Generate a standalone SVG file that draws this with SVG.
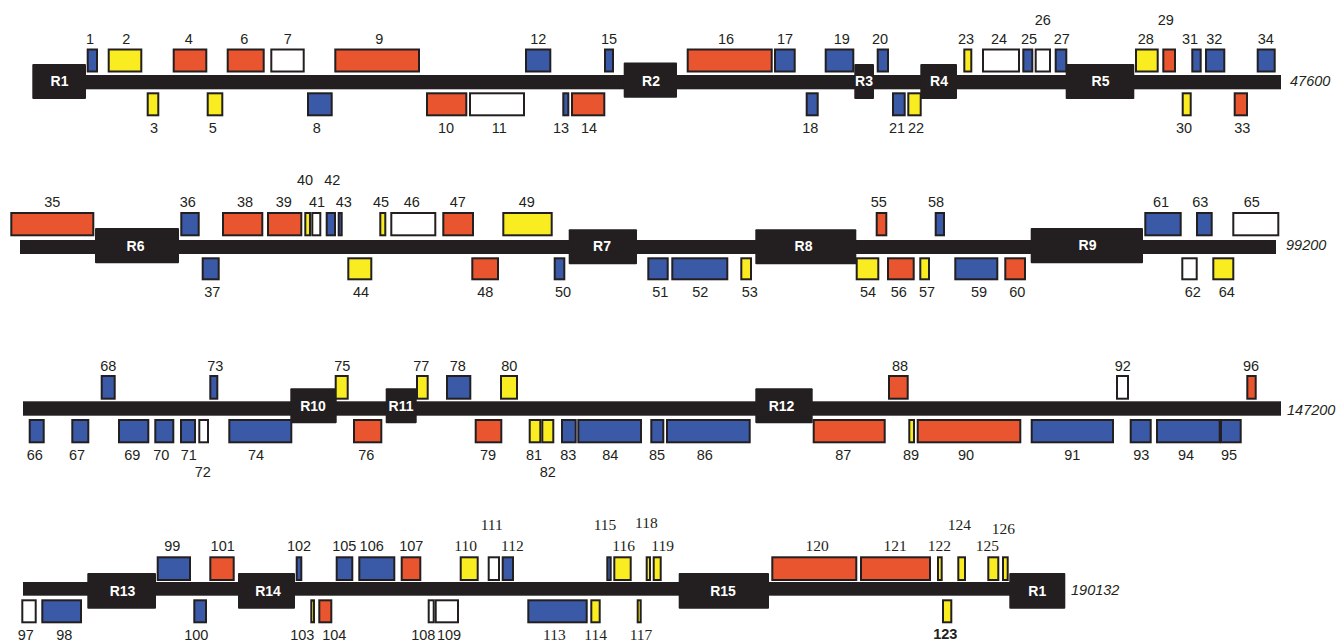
<svg xmlns="http://www.w3.org/2000/svg" width="1338" height="642" viewBox="0 0 1338 642">
<style>
.g rect{stroke:#231F20;stroke-width:2}
.r rect{fill:#E9552E}
.b rect{fill:#3A59A7}
.y rect{fill:#F9EC21}
.w rect{fill:#FFFFFF}
.g text{font-family:"Liberation Sans",Arial,sans-serif;font-size:14.5px;fill:#231F20;text-anchor:middle}
.g text.s{font-family:"Liberation Serif","Times New Roman",serif;font-size:15.5px}
.g text.bd{font-weight:bold}
.R rect{fill:#231F20}
.R text{font-family:"Liberation Sans",Arial,sans-serif;font-size:14px;font-weight:bold;fill:#FFFFFF;text-anchor:middle}
.bar{fill:#231F20}
.len{font-family:"Liberation Sans",Arial,sans-serif;font-size:14.5px;font-style:italic;fill:#231F20}
</style>
<rect width="1338" height="642" fill="#FFFFFF"/>
<g id="connectors">
<rect class="bar" x="60" y="75" width="1221" height="14.3"/>
<rect class="bar" x="20" y="240" width="1256" height="14"/>
<rect class="bar" x="23" y="401.3" width="1258" height="14.4"/>
<rect class="bar" x="23" y="582" width="990" height="13.7"/>
</g>
<g id="R1a" class="R"><rect x="32.3" y="64" width="53.7" height="35" rx="1"/><text x="59.5" y="86">R1</text></g>
<g id="R2" class="R"><rect x="623.7" y="62.5" width="53.3" height="35.2" rx="1"/><text x="651" y="86">R2</text></g>
<g id="R3" class="R"><rect x="854.3" y="64" width="19.7" height="35" rx="1"/><text x="864" y="86">R3</text></g>
<g id="R4" class="R"><rect x="920.3" y="64" width="36.7" height="35" rx="1"/><text x="939" y="86">R4</text></g>
<g id="R5" class="R"><rect x="1065.7" y="64" width="68.6" height="35" rx="1"/><text x="1100.5" y="86">R5</text></g>
<g id="R6" class="R"><rect x="95" y="228" width="84" height="35.3" rx="1"/><text x="135.5" y="250.5">R6</text></g>
<g id="R7" class="R"><rect x="568.7" y="229.3" width="68.3" height="35" rx="1"/><text x="602" y="251">R7</text></g>
<g id="R8" class="R"><rect x="755.3" y="229.3" width="101" height="35" rx="1"/><text x="803.5" y="250.5">R8</text></g>
<g id="R9" class="R"><rect x="1030.7" y="228" width="112.3" height="35.3" rx="1"/><text x="1087.5" y="250">R9</text></g>
<g id="R10" class="R"><rect x="290.3" y="388.3" width="46.4" height="35" rx="1"/><text x="313" y="410.7">R10</text></g>
<g id="R11" class="R"><rect x="385.7" y="388.3" width="31" height="35" rx="1"/><text x="401" y="410.7">R11</text></g>
<g id="R12" class="R"><rect x="755.3" y="388.3" width="57.4" height="35" rx="1"/><text x="781.5" y="410.7">R12</text></g>
<g id="R13" class="R"><rect x="87.3" y="573" width="68.7" height="35.7" rx="1"/><text x="122.5" y="596">R13</text></g>
<g id="R14" class="R"><rect x="238" y="573" width="57" height="35.7" rx="1"/><text x="268" y="596">R14</text></g>
<g id="R15" class="R"><rect x="678.7" y="573" width="90.3" height="35.7" rx="1"/><text x="723" y="596">R15</text></g>
<g id="R1b" class="R"><rect x="1009.3" y="573" width="56" height="35.7" rx="1"/><text x="1037.3" y="596">R1</text></g>
<g id="lengths">
<text class="len" x="1290" y="86">47600</text>
<text class="len" x="1286" y="249.5">99200</text>
<text class="len" x="1287" y="414.5">147200</text>
<text class="len" x="1071" y="595">190132</text>
</g>
<g id="g1" class="g b"><rect x="87.7" y="49.5" width="9.3" height="22"/><text x="90" y="44.3">1</text></g>
<g id="g2" class="g y"><rect x="108.7" y="49.5" width="32.6" height="22"/><text x="126.3" y="44.3">2</text></g>
<g id="g3" class="g y"><rect x="147.7" y="93.3" width="10.6" height="22"/><text x="154" y="132.7">3</text></g>
<g id="g4" class="g r"><rect x="173.7" y="49.5" width="32.6" height="22"/><text x="188.7" y="44.3">4</text></g>
<g id="g5" class="g y"><rect x="207.7" y="93.3" width="14.6" height="22"/><text x="212.7" y="132.7">5</text></g>
<g id="g6" class="g r"><rect x="227.7" y="49.5" width="36" height="22"/><text x="244.3" y="44.3">6</text></g>
<g id="g7" class="g w"><rect x="271.3" y="49.5" width="32.4" height="22"/><text x="287.7" y="44.3">7</text></g>
<g id="g8" class="g b"><rect x="308" y="93.3" width="23.7" height="22"/><text x="316.7" y="132.7">8</text></g>
<g id="g9" class="g r"><rect x="335.3" y="49.5" width="83.7" height="22"/><text x="379.3" y="44.3">9</text></g>
<g id="g10" class="g r"><rect x="427" y="93.3" width="39.3" height="22"/><text x="446" y="132.7">10</text></g>
<g id="g11" class="g w"><rect x="470" y="93.3" width="54" height="22"/><text x="499.3" y="132.7">11</text></g>
<g id="g12" class="g b"><rect x="526" y="49.5" width="24.3" height="22"/><text x="538.3" y="44.3">12</text></g>
<g id="g13" class="g b"><rect x="563.3" y="93.3" width="5" height="22"/><text x="561" y="132.7">13</text></g>
<g id="g14" class="g r"><rect x="572" y="93.3" width="32.3" height="22"/><text x="589" y="132.7">14</text></g>
<g id="g15" class="g b"><rect x="605" y="49.5" width="8" height="22"/><text x="609" y="44.3">15</text></g>
<g id="g16" class="g r"><rect x="687.7" y="49.5" width="84" height="22"/><text x="726" y="44.3">16</text></g>
<g id="g17" class="g b"><rect x="775" y="49.5" width="19.7" height="22"/><text x="785" y="44.3">17</text></g>
<g id="g18" class="g b"><rect x="806.7" y="93.3" width="11" height="22"/><text x="810.3" y="132.7">18</text></g>
<g id="g19" class="g b"><rect x="825.7" y="49.5" width="27.6" height="22"/><text x="841.7" y="44.3">19</text></g>
<g id="g20" class="g b"><rect x="877.7" y="49.5" width="10.3" height="22"/><text x="880" y="44.3">20</text></g>
<g id="g21" class="g b"><rect x="893" y="93.3" width="11.7" height="22"/><text x="897" y="132.7">21</text></g>
<g id="g22" class="g y"><rect x="908.3" y="93.3" width="12.4" height="22"/><text x="916" y="132.7">22</text></g>
<g id="g23" class="g y"><rect x="964.3" y="49.5" width="7" height="22"/><text x="966" y="44.3">23</text></g>
<g id="g24" class="g w"><rect x="983" y="49.5" width="36" height="22"/><text x="999" y="44.3">24</text></g>
<g id="g25" class="g b"><rect x="1023.3" y="49.5" width="9" height="22"/><text x="1029" y="44.3">25</text></g>
<g id="g26" class="g w"><rect x="1035.7" y="49.5" width="14.3" height="22"/><text x="1042.7" y="25">26</text></g>
<g id="g27" class="g b"><rect x="1055.7" y="49.5" width="10.6" height="22"/><text x="1061.7" y="44.3">27</text></g>
<g id="g28" class="g y"><rect x="1136" y="49.5" width="21.7" height="22"/><text x="1145.7" y="44.3">28</text></g>
<g id="g29" class="g r"><rect x="1163.3" y="49.5" width="11.7" height="22"/><text x="1165.7" y="25">29</text></g>
<g id="g30" class="g y"><rect x="1182.7" y="93.3" width="8" height="22"/><text x="1184" y="132.7">30</text></g>
<g id="g31" class="g b"><rect x="1192.3" y="49.5" width="8.4" height="22"/><text x="1190" y="44.3">31</text></g>
<g id="g32" class="g b"><rect x="1206" y="49.5" width="18.3" height="22"/><text x="1214.3" y="44.3">32</text></g>
<g id="g33" class="g r"><rect x="1234.7" y="93.3" width="12.3" height="22"/><text x="1242.3" y="132.7">33</text></g>
<g id="g34" class="g b"><rect x="1257.7" y="49.5" width="17" height="22"/><text x="1265.7" y="44.3">34</text></g>
<g id="g35" class="g r"><rect x="11.3" y="213" width="82" height="22.3"/><text x="52.3" y="206.5">35</text></g>
<g id="g36" class="g b"><rect x="181.3" y="213" width="17.4" height="22.3"/><text x="187.7" y="206.5">36</text></g>
<g id="g37" class="g b"><rect x="202.7" y="258.3" width="16" height="21"/><text x="212.3" y="297.3">37</text></g>
<g id="g38" class="g r"><rect x="223" y="213" width="39.3" height="22.3"/><text x="245" y="206.5">38</text></g>
<g id="g39" class="g r"><rect x="268" y="213" width="33.3" height="22.3"/><text x="283.7" y="206.5">39</text></g>
<g id="g40" class="g y"><rect x="305.3" y="213" width="4.7" height="22.3"/><text x="305" y="185.3">40</text></g>
<g id="g41" class="g w"><rect x="312.3" y="213" width="8" height="22.3"/><text x="317" y="206.5">41</text></g>
<g id="g42" class="g b"><rect x="326.7" y="213" width="8.3" height="22.3"/><text x="332.3" y="185.3">42</text></g>
<g id="g43" class="g b"><rect x="338.7" y="213" width="3" height="22.3"/><text x="343.7" y="206.5">43</text></g>
<g id="g44" class="g y"><rect x="348.3" y="258.3" width="23" height="21"/><text x="361" y="297.3">44</text></g>
<g id="g45" class="g y"><rect x="380.3" y="213" width="5" height="22.3"/><text x="381" y="206.5">45</text></g>
<g id="g46" class="g w"><rect x="391.3" y="213" width="44" height="22.3"/><text x="411.7" y="206.5">46</text></g>
<g id="g47" class="g r"><rect x="443.3" y="213" width="29.7" height="22.3"/><text x="457.7" y="206.5">47</text></g>
<g id="g48" class="g r"><rect x="472.3" y="258.3" width="25.7" height="21"/><text x="485.3" y="297.3">48</text></g>
<g id="g49" class="g y"><rect x="503.3" y="213" width="48.4" height="22.3"/><text x="526.7" y="206.5">49</text></g>
<g id="g50" class="g b"><rect x="554.7" y="258.3" width="9.6" height="21"/><text x="563" y="297.3">50</text></g>
<g id="g51" class="g b"><rect x="648.3" y="258.3" width="19.4" height="21"/><text x="660.3" y="297.3">51</text></g>
<g id="g52" class="g b"><rect x="672.3" y="258.3" width="55" height="21"/><text x="700.3" y="297.3">52</text></g>
<g id="g53" class="g y"><rect x="741.3" y="258.3" width="9.7" height="21"/><text x="749.7" y="297.3">53</text></g>
<g id="g54" class="g y"><rect x="856.7" y="258.3" width="21.6" height="21"/><text x="868" y="297.3">54</text></g>
<g id="g55" class="g r"><rect x="876.7" y="213" width="9.6" height="22.3"/><text x="878.7" y="206.5">55</text></g>
<g id="g56" class="g r"><rect x="888" y="258.3" width="25.7" height="21"/><text x="898.7" y="297.3">56</text></g>
<g id="g57" class="g y"><rect x="920.3" y="258.3" width="8.7" height="21"/><text x="927" y="297.3">57</text></g>
<g id="g58" class="g b"><rect x="935.7" y="213" width="8.3" height="22.3"/><text x="936" y="206.5">58</text></g>
<g id="g59" class="g b"><rect x="955.3" y="258.3" width="42" height="21"/><text x="979" y="297.3">59</text></g>
<g id="g60" class="g r"><rect x="1005.3" y="258.3" width="19.7" height="21"/><text x="1017.3" y="297.3">60</text></g>
<g id="g61" class="g b"><rect x="1145.3" y="213" width="35.4" height="22.3"/><text x="1161" y="206.5">61</text></g>
<g id="g62" class="g w"><rect x="1182.3" y="258.3" width="14.4" height="21"/><text x="1192.7" y="297.3">62</text></g>
<g id="g63" class="g b"><rect x="1197" y="213" width="14.7" height="22.3"/><text x="1200.3" y="206.5">63</text></g>
<g id="g64" class="g y"><rect x="1213.3" y="258.3" width="20" height="21"/><text x="1226.7" y="297.3">64</text></g>
<g id="g65" class="g w"><rect x="1233.3" y="213" width="45" height="22.3"/><text x="1251.7" y="206.5">65</text></g>
<g id="g66" class="g b"><rect x="29.7" y="420" width="14" height="22.3"/><text x="34.7" y="460.3">66</text></g>
<g id="g67" class="g b"><rect x="72.3" y="420" width="16" height="22.3"/><text x="77" y="460.3">67</text></g>
<g id="g68" class="g b"><rect x="101.7" y="376" width="13" height="22.7"/><text x="108.3" y="371.3">68</text></g>
<g id="g69" class="g b"><rect x="119" y="420" width="29.3" height="22.3"/><text x="132.3" y="460.3">69</text></g>
<g id="g70" class="g b"><rect x="155.3" y="420" width="18" height="22.3"/><text x="161.3" y="460.3">70</text></g>
<g id="g71" class="g b"><rect x="181" y="420" width="14" height="22.3"/><text x="188.7" y="460.3">71</text></g>
<g id="g72" class="g w"><rect x="199.3" y="420" width="8.7" height="22.3"/><text x="202.7" y="476.7">72</text></g>
<g id="g73" class="g b"><rect x="210.3" y="376" width="7" height="22.7"/><text x="215.3" y="371.3">73</text></g>
<g id="g74" class="g b"><rect x="229.3" y="420" width="62" height="22.3"/><text x="256" y="460.3">74</text></g>
<g id="g75" class="g y"><rect x="335.7" y="376" width="12" height="22.7"/><text x="342.3" y="371.3">75</text></g>
<g id="g76" class="g r"><rect x="354" y="420" width="27.3" height="22.3"/><text x="366.3" y="460.3">76</text></g>
<g id="g77" class="g y"><rect x="417" y="376" width="10.7" height="22.7"/><text x="421.3" y="371.3">77</text></g>
<g id="g78" class="g b"><rect x="447" y="376" width="23.3" height="22.7"/><text x="457.7" y="371.3">78</text></g>
<g id="g79" class="g r"><rect x="475.7" y="420" width="25.6" height="22.3"/><text x="488" y="460.3">79</text></g>
<g id="g80" class="g y"><rect x="501" y="376" width="16" height="22.7"/><text x="509.3" y="371.3">80</text></g>
<g id="g81" class="g y"><rect x="529.7" y="420" width="10.6" height="22.3"/><text x="534" y="460.3">81</text></g>
<g id="g82" class="g y"><rect x="542.3" y="420" width="11" height="22.3"/><text x="547.7" y="476.7">82</text></g>
<g id="g83" class="g b"><rect x="562" y="420" width="13.7" height="22.3"/><text x="568.3" y="460.3">83</text></g>
<g id="g84" class="g b"><rect x="578.3" y="420" width="62.7" height="22.3"/><text x="610.3" y="460.3">84</text></g>
<g id="g85" class="g b"><rect x="651.3" y="420" width="12" height="22.3"/><text x="657" y="460.3">85</text></g>
<g id="g86" class="g b"><rect x="667" y="420" width="82.7" height="22.3"/><text x="704.7" y="460.3">86</text></g>
<g id="g87" class="g r"><rect x="813.7" y="420" width="71" height="22.3"/><text x="843.3" y="460.3">87</text></g>
<g id="g88" class="g r"><rect x="889" y="376" width="18.7" height="22.7"/><text x="900" y="371.3">88</text></g>
<g id="g89" class="g y"><rect x="909.3" y="420" width="4.7" height="22.3"/><text x="911" y="460.3">89</text></g>
<g id="g90" class="g r"><rect x="917.7" y="420" width="102.6" height="22.3"/><text x="966" y="460.3">90</text></g>
<g id="g91" class="g b"><rect x="1031.7" y="420" width="81.3" height="22.3"/><text x="1072.3" y="460.3">91</text></g>
<g id="g92" class="g w"><rect x="1117" y="376" width="11" height="22.7"/><text x="1122.7" y="371.3">92</text></g>
<g id="g93" class="g b"><rect x="1130.7" y="420" width="20" height="22.3"/><text x="1141.3" y="460.3">93</text></g>
<g id="g94" class="g b"><rect x="1157" y="420" width="62.7" height="22.3"/><text x="1186" y="460.3">94</text></g>
<g id="g95" class="g b"><rect x="1221" y="420" width="19.7" height="22.3"/><text x="1229" y="460.3">95</text></g>
<g id="g96" class="g r"><rect x="1247.3" y="376" width="8.4" height="22.7"/><text x="1251" y="371.3">96</text></g>
<g id="g97" class="g w"><rect x="22.3" y="600.3" width="13.4" height="22"/><text x="25.7" y="639.7">97</text></g>
<g id="g98" class="g b"><rect x="42.3" y="600.3" width="38.7" height="22"/><text x="64.3" y="639.7">98</text></g>
<g id="g99" class="g b"><rect x="157.7" y="557.3" width="32.3" height="22.7"/><text x="172.3" y="550.7">99</text></g>
<g id="g100" class="g b"><rect x="194.3" y="600.3" width="11.7" height="22"/><text x="196.3" y="639.7">100</text></g>
<g id="g101" class="g r"><rect x="210.3" y="557.3" width="23.4" height="22.7"/><text x="222.7" y="550.7">101</text></g>
<g id="g102" class="g b"><rect x="296.7" y="557.3" width="4.6" height="22.7"/><text x="299" y="550.7">102</text></g>
<g id="g103" class="g y"><rect x="311.3" y="600.3" width="2.7" height="22"/><text x="302.3" y="639.7">103</text></g>
<g id="g104" class="g r"><rect x="319.3" y="600.3" width="12" height="22"/><text x="334.3" y="639.7">104</text></g>
<g id="g105" class="g b"><rect x="336.7" y="557.3" width="15.6" height="22.7"/><text x="344.3" y="550.7">105</text></g>
<g id="g106" class="g b"><rect x="359.3" y="557.3" width="35" height="22.7"/><text x="371.7" y="550.7">106</text></g>
<g id="g107" class="g r"><rect x="401.7" y="557.3" width="18.6" height="22.7"/><text x="411.3" y="550.7">107</text></g>
<g id="g108" class="g w"><rect x="428.7" y="600.3" width="5" height="22"/><text x="423.3" y="639.7">108</text></g>
<g id="g109" class="g w"><rect x="435.7" y="600.3" width="22.3" height="22"/><text x="449" y="639.7">109</text></g>
<g id="g110" class="g y"><rect x="460.7" y="557.3" width="17" height="22.7"/><text class="s" x="465.7" y="550.7">110</text></g>
<g id="g111" class="g w"><rect x="488.7" y="557.3" width="10.3" height="22.7"/><text class="s" x="491.7" y="529.7">111</text></g>
<g id="g112" class="g b"><rect x="502.7" y="557.3" width="10.3" height="22.7"/><text class="s" x="512.3" y="550.7">112</text></g>
<g id="g113" class="g b"><rect x="528.3" y="600.3" width="58.4" height="22"/><text class="s" x="554.3" y="639.7">113</text></g>
<g id="g114" class="g y"><rect x="591.3" y="600.3" width="8.4" height="22"/><text class="s" x="595.7" y="639.7">114</text></g>
<g id="g115" class="g b"><rect x="607.3" y="557.3" width="3.4" height="22.7"/><text class="s" x="605" y="530">115</text></g>
<g id="g116" class="g y"><rect x="614.3" y="557.3" width="16.4" height="22.7"/><text class="s" x="623.7" y="550.7">116</text></g>
<g id="g117" class="g y"><rect x="637.7" y="600.3" width="3" height="22"/><text class="s" x="641" y="639.7">117</text></g>
<g id="g118" class="g y"><rect x="646.7" y="557.3" width="3.3" height="22.7"/><text class="s" x="646.3" y="528.3">118</text></g>
<g id="g119" class="g y"><rect x="653.7" y="557.3" width="7" height="22.7"/><text class="s" x="662.7" y="550.7">119</text></g>
<g id="g120" class="g r"><rect x="772.3" y="557.3" width="84" height="22.7"/><text class="s" x="817" y="550.7">120</text></g>
<g id="g121" class="g r"><rect x="861" y="557.3" width="69" height="22.7"/><text class="s" x="895" y="550.7">121</text></g>
<g id="g122" class="g y"><rect x="938" y="557.3" width="3.7" height="22.7"/><text class="s" x="939.3" y="550.7">122</text></g>
<g id="g123" class="g y"><rect x="943" y="600.3" width="8.3" height="22"/><text class="bd" x="945.3" y="639">123</text></g>
<g id="g124" class="g y"><rect x="958.3" y="557.3" width="6.7" height="22.7"/><text class="s" x="959.3" y="530">124</text></g>
<g id="g125" class="g y"><rect x="988.3" y="557.3" width="10" height="22.7"/><text class="s" x="987.3" y="550.7">125</text></g>
<g id="g126" class="g y"><rect x="1003" y="557.3" width="4.7" height="22.7"/><text class="s" x="1003.3" y="534">126</text></g>
</svg>
